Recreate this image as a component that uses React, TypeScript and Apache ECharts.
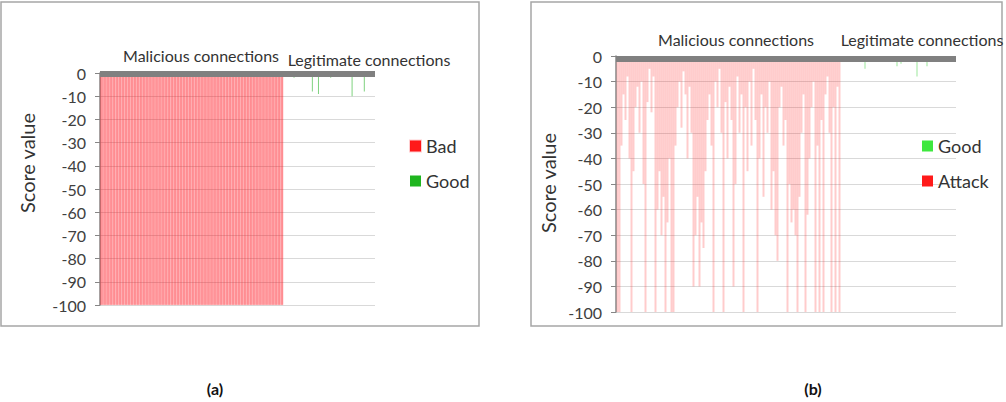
import React, { useEffect, useRef } from "react";
import * as echarts from "echarts";

// Panel (a): Bad = malicious connections, Good = legitimate connections
const A_MALICIOUS = [
  -100, -100, -100, -100, -100, -100, -100, -100, -100, -100,
  -100, -100, -100, -100, -100, -100, -100, -100, -100, -100,
  -100, -100, -100, -100, -100, -100, -100, -100, -100, -100,
  -100, -100, -100, -100, -100, -100, -100, -100, -100, -100,
  -100, -100, -100, -100, -100, -100, -100, -100, -100, -100,
  -100, -100, -100, -100, -100, -100, -100, -100, -100, -100,
];
const A_LEGIT = [
  0, 0, 0, -2, 0, 0, 0, 0, 0, -8,
  0, -9, 0, 0, 0, -2, 0, 0, 0, 0,
  0, 0, -10, 0, 0, 0, -8, 0, 0, 0,
];

// Panel (b): Attack = malicious connections, Good = legitimate connections
const B_MALICIOUS = [
  -100, -100, -35, -15, -25, -8, -40, -100, -45, -20,
  -12, -30, -10, -50, -100, -18, -5, -22, -8, -100,
  -60, -45, -70, -55, -100, -65, -40, -100, -100, -35,
  -20, -10, -28, -6, -15, -40, -12, -30, -90, -70,
  -55, -90, -65, -75, -45, -25, -15, -35, -100, -10,
  -20, -5, -30, -100, -18, -40, -12, -25, -90, -50,
  -8, -30, -15, -100, -20, -45, -10, -35, -5, -25,
  -100, -40, -15, -55, -20, -30, -10, -60, -45, -70,
  -80, -20, -12, -35, -25, -100, -50, -65, -60, -70,
  -100, -55, -30, -15, -100, -62, -40, -20, -10, -100,
  -35, -100, -25, -100, -15, -8, -30, -100, -20, -100,
  -12, -100,
];
const B_LEGIT = [
  0, 0, 0, 0, 0, 0, 0, 0, 0, 0,
  0, 0, -5, 0, 0, 0, 0, 0, 0, 0,
  0, 0, 0, 0, 0, 0, 0, 0, -4, 0,
  -3, 0, 0, 0, 0, 0, 0, 0, -8, 0,
  0, 0, 0, -4, 0, 0, 0, 0, 0, 0,
  0, 0, 0, 0, 0, -2, 0, 0,
];

const Y_MIN = -100;
const Y_MAX = 0;
const Y_STEP = 10;

const FONT = "Lato, 'Open Sans', sans-serif";

export default function App() {
  const ref = useRef<HTMLDivElement>(null);

  useEffect(() => {
    if (!ref.current) return;
    const chart = echarts.init(ref.current, null, { renderer: "svg" });

    const aCats = [...A_MALICIOUS, ...A_LEGIT].map((_, i) => "a" + i);
    const bCats = [...B_MALICIOUS, ...B_LEGIT].map((_, i) => "b" + i);
    const aBad = [...A_MALICIOUS, ...A_LEGIT.map(() => "-")];
    const aGood = [...A_MALICIOUS.map(() => "-"), ...A_LEGIT];
    const bAttack = [...B_MALICIOUS, ...B_LEGIT.map(() => "-")];
    const bGood = [...B_MALICIOUS.map(() => "-"), ...B_LEGIT];

    const yAxisBase = (gridIndex: number) => ({
      type: "value",
      gridIndex,
      min: Y_MIN,
      max: Y_MAX,
      interval: Y_STEP,
      axisLine: { show: true, lineStyle: { color: "#868686", width: 1.5 } },
      axisTick: { show: true, length: 5, lineStyle: { color: "#868686" } },
      axisLabel: { fontSize: 16, color: "#404040", fontFamily: FONT, margin: 14 },
      splitLine: { show: true, lineStyle: { color: "#d9d9d9", width: 1 } },
    });

    const xAxisBase = (gridIndex: number, data: string[], offset: number, visible = true) => ({
      type: "category",
      gridIndex,
      data,
      position: "top",
      offset,
      z: 5,
      show: visible,
      axisLine: { show: visible, lineStyle: { color: "#808080", width: 6, cap: "butt" } },
      axisTick: { show: false },
      axisLabel: { show: false },
      splitLine: { show: false },
    });

    const text = (x: number, y: number, t: string, size: number, extra: any = {}) => ({
      type: "text",
      x,
      y,
      ...extra,
      style: {
        text: t,
        fontSize: size,
        fontFamily: FONT,
        fill: "#333",
        align: "center",
        verticalAlign: "middle",
        ...(extra.style || {}),
      },
    });

    chart.setOption({
      animation: false,
      backgroundColor: "#ffffff",
      grid: [
        { left: 100, top: 73, width: 275, height: 232, containLabel: false },
        { left: 616, top: 56, width: 340, height: 256, containLabel: false },
      ],
      xAxis: [
        xAxisBase(0, aCats, -1),
        xAxisBase(1, bCats, -3),
        xAxisBase(0, aCats, -1, false),
      ],
      yAxis: [yAxisBase(0), yAxisBase(1)],
      legend: [
        {
          orient: "vertical",
          left: 404,
          top: 131,
          itemWidth: 11,
          itemHeight: 11,
          itemGap: 15,
          icon: "rect",
          textStyle: { fontSize: 18, color: "#333", fontFamily: FONT, lineHeight: 20 },
          data: [
            { name: "Bad", itemStyle: { color: "#ff1a1a" } },
            { name: "Good", itemStyle: { color: "#1fb51f" } },
          ],
        },
        {
          orient: "vertical",
          left: 917,
          top: 131,
          itemWidth: 11,
          itemHeight: 11,
          itemGap: 15,
          icon: "rect",
          textStyle: { fontSize: 18, color: "#333", fontFamily: FONT, lineHeight: 20 },
          data: [
            { name: "Good", itemStyle: { color: "#3ee83e" } },
            { name: "Attack", itemStyle: { color: "#ff1a1a" } },
          ],
        },
      ],
      series: [
        {
          name: "Bad",
          type: "bar",
          xAxisIndex: 0,
          yAxisIndex: 0,
          data: aBad,
          barCategoryGap: "0%",
          itemStyle: { color: "rgba(255,10,20,0.44)", borderColor: "rgba(255,10,20,0.2)", borderWidth: 0.5 },
        },
        {
          name: "Good",
          type: "bar",
          xAxisIndex: 2,
          yAxisIndex: 0,
          data: aGood,
          barWidth: 1,
          itemStyle: { color: "#7fd27f" },
        },
        {
          name: "Attack",
          type: "bar",
          xAxisIndex: 1,
          yAxisIndex: 1,
          data: bAttack,
          barWidth: 2,
          barGap: "-100%",
          itemStyle: { color: "rgba(255,40,40,0.24)" },
        },
        {
          name: "Good",
          type: "bar",
          xAxisIndex: 1,
          yAxisIndex: 1,
          data: bGood,
          barWidth: 1,
          barGap: "-100%",
          itemStyle: { color: "#9be79b" },
        },
      ],
      graphic: [
        { type: "rect", shape: { x: 1, y: 2, width: 478, height: 324 }, style: { fill: "none", stroke: "#a6a6a6", lineWidth: 1.5 } },
        { type: "rect", shape: { x: 531, y: 2, width: 471, height: 324 }, style: { fill: "none", stroke: "#a6a6a6", lineWidth: 1.5 } },
        text(201, 55, "Malicious connections", 16),
        text(369, 59, "Legitimate connections", 16),
        text(736, 39, "Malicious connections", 16),
        text(922, 39, "Legitimate connections", 16),
        text(27, 163, "Score value", 20, { rotation: Math.PI / 2 }),
        text(548, 183, "Score value", 20, { rotation: Math.PI / 2 }),
        text(215, 388, "(a)", 16, { style: { fontWeight: "bold", fill: "#111" } }),
        text(813, 388, "(b)", 16, { style: { fontWeight: "bold", fill: "#111" } }),
      ],
    });

    return () => chart.dispose();
  }, []);

  return (
    <div
      ref={ref}
      style={{ position: "fixed", left: 0, top: 0, width: 1006, height: 402, background: "#fff" }}
    />
  );
}
